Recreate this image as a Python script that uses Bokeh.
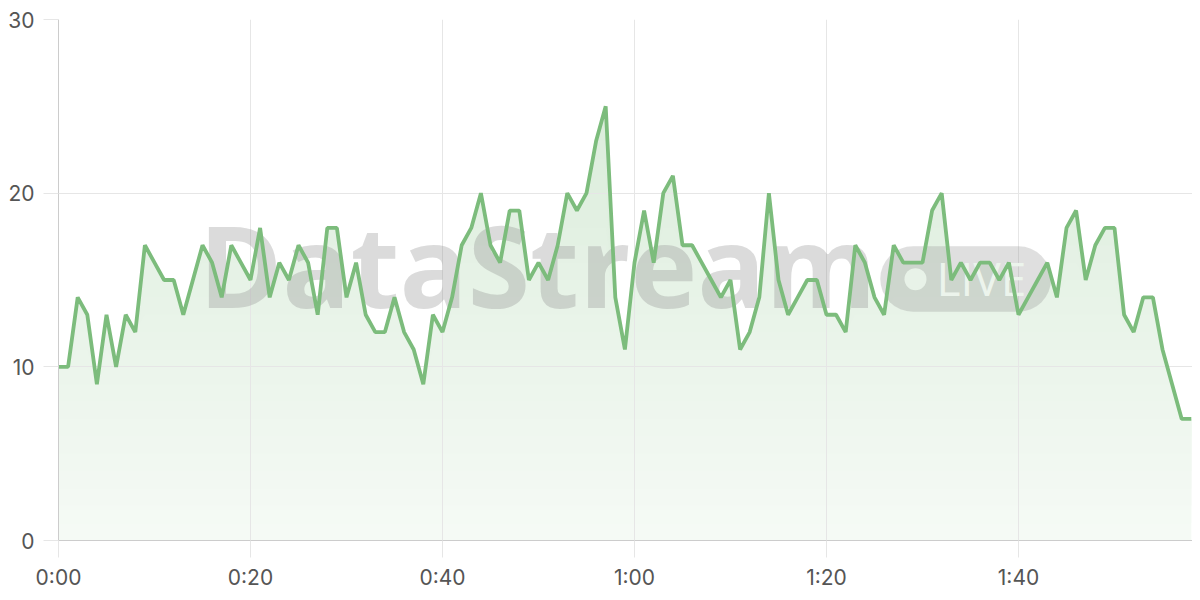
import numpy as np
from bokeh.plotting import figure
from bokeh.models import FixedTicker, Range1d
from bokeh.core.properties import value
from bokeh.embed import file_html
from bokeh.resources import INLINE

# ---- data ----
minutes = list(range(119))
counts = [10, 10, 14, 13, 9, 13, 10, 13, 12, 17,
          16, 15, 15, 13, 15, 17, 16, 14, 17, 16,
          15, 18, 14, 16, 15, 17, 16, 13, 18, 18,
          14, 16, 13, 12, 12, 14, 12, 11, 9, 13,
          12, 14, 17, 18, 20, 17, 16, 19, 19, 15,
          16, 15, 17, 20, 19, 20, 23, 25, 14, 11,
          16, 19, 16, 20, 21, 17, 17, 16, 15, 14,
          15, 11, 12, 14, 20, 15, 13, 14, 15, 15,
          13, 13, 12, 17, 16, 14, 13, 17, 16, 16,
          16, 19, 20, 15, 16, 15, 16, 16, 15, 16,
          13, 14, 15, 16, 14, 18, 19, 15, 17, 18,
          18, 13, 12, 14, 14, 11, 9, 7, 7]
x_ticks = [0, 20, 40, 60, 80, 100]
x_tick_labels = ["0:00", "0:20", "0:40", "1:00", "1:20", "1:40"]
y_ticks = [0, 10, 20, 30]

GREEN = "#7cbc7c"
x = np.array(minutes, dtype=float)
y = np.array(counts, dtype=float)

W, H = 1192, 592
LEFT, TOP, BOTTOM = 58, 19, 543
PX_PER_MIN = 9.6

p = figure(width=W, height=H, output_backend="svg", toolbar_location=None,
           x_range=Range1d(0, (W - LEFT) / PX_PER_MIN), y_range=Range1d(0, 30),
           min_border_left=LEFT, min_border_right=0, min_border_top=TOP,
           min_border_bottom=H - BOTTOM)
p.outline_line_color = None
p.background_fill_color = "white"
p.border_fill_color = "white"


def band_color(v):
    a = 0.07 + 0.008 * v
    r = round(255 - a * (255 - 124))
    g = round(255 - a * (255 - 188))
    return "#%02x%02x%02x" % (r, g, r)


# gradient-like fill: opaque stacked layers, drawn beneath the grid
for k in range(0, 26):
    p.varea(x=x, y1=np.minimum(y, k), y2=y, fill_color=band_color(k + 0.5),
            level="image")

# watermark
p.text(x=[14.6], y=[15.9], text=["DataStream"], text_font=value("Open Sans"),
       text_font_style="bold", text_font_size="113px", text_color="#888888",
       text_alpha=0.30, text_baseline="alphabetic", text_align="left")
p.quad(left=[85.6], right=[103.4], bottom=[13.17], top=[16.94], fill_color="#888888",
       fill_alpha=0.27, line_color=None, border_radius=33)
p.scatter(x=[89.27], y=[15.05], size=22, fill_color="#e8f2e8", line_color=None)
p.text(x=[91.46], y=[15.13], text=["LIVE"], text_font=value("Open Sans"),
       text_font_size="46px", text_color="#ecf4ec",
       text_baseline="alphabetic", text_align="left")

# line
p.line(x, y, line_color=GREEN, line_width=3.8)

# axes
GRID = "#e6e6e6"
for ax in (p.xaxis, p.yaxis):
    ax.axis_line_color = "#cccccc"
    ax.axis_line_width = 1
    ax.major_tick_line_color = GRID
    ax.major_tick_in = 0
    ax.minor_tick_line_color = None
    ax.major_label_text_font = "Inter"
    ax.major_label_text_font_size = "21px"
    ax.major_label_text_color = "#555555"

p.xaxis.ticker = FixedTicker(ticks=x_ticks)
p.xaxis.major_label_overrides = {t: l for t, l in zip(x_ticks, x_tick_labels)}
p.xaxis.major_tick_out = 17
p.xaxis.major_label_standoff = 7

p.yaxis.ticker = FixedTicker(ticks=y_ticks)
p.yaxis.major_tick_out = 15
p.yaxis.major_label_standoff = 9

p.xgrid.grid_line_color = GRID
p.ygrid.grid_line_color = GRID
p.xgrid.ticker = FixedTicker(ticks=x_ticks)
p.ygrid.ticker = FixedTicker(ticks=y_ticks)

open("out.html", "w").write(file_html(p, INLINE))
